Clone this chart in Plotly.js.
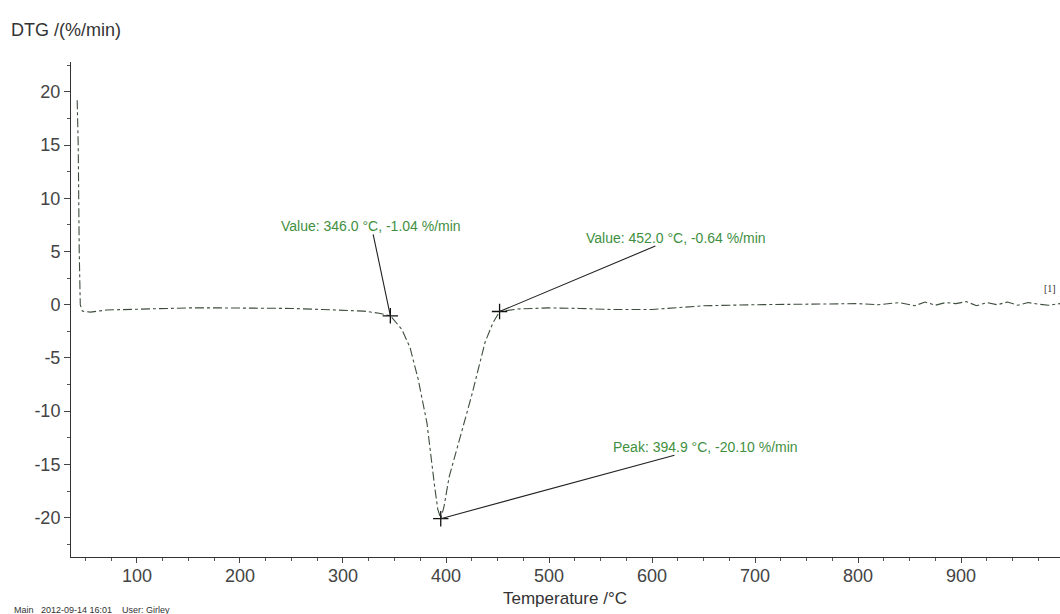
<!DOCTYPE html>
<html>
<head>
<meta charset="utf-8">
<script src="https://cdn.plot.ly/plotly-3.0.1.min.js"></script>
<style>html,body{margin:0;padding:0;background:#fff;}#chart{width:1060px;height:614px;}</style>
</head>
<body>
<div id="chart"></div>
<script>
// Temperature (°C)
const temperature = [42, 43, 44, 45, 47, 55, 70, 100, 130, 150, 180, 200, 230, 250, 280, 300, 320, 335, 346,
  357, 365, 373, 381.5, 389, 392, 394.9, 398, 403, 410, 418, 425, 432, 438, 445.6, 452,
  470, 500, 530, 560, 600, 630, 650, 700, 750, 800, 820, 840, 855, 865, 875, 885, 895, 905, 915, 925, 935, 945, 955, 965, 975, 985, 996];
// DTG (%/min)
const dtg = [19.2, 15, 5, 0, -0.6, -0.7, -0.5, -0.4, -0.35, -0.3, -0.3, -0.3, -0.35, -0.35, -0.45, -0.5, -0.6, -0.8, -1.04,
  -2.3, -4.0, -7.0, -11.1, -17.1, -19.2, -20.1, -19.0, -16.2, -13.8, -11.1, -8.5, -5.8, -3.5, -1.7, -0.64,
  -0.4, -0.3, -0.35, -0.45, -0.45, -0.25, -0.1, 0.0, 0.05, 0.1, 0.0, 0.2, -0.1, 0.25, -0.05, 0.2, 0.1, 0.3, -0.1, 0.2, 0.0, 0.25, -0.05, 0.2, 0.05, -0.05, 0.1];

// Marked points
const markT = [346.0, 394.9, 452.0];
const markV = [-1.04, -20.10, -0.64];
const markLabels = ["Value: 346.0 °C, -1.04 %/min", "Peak: 394.9 °C, -20.10 %/min", "Value: 452.0 °C, -0.64 %/min"];
const labelOffsets = [[-19, -90], [265, -72], [176, -74]];

const xTicks = [100, 200, 300, 400, 500, 600, 700, 800, 900];
const xTickText = ["100", "200", "300", "400", "500", "600", "700", "800", "900"];
const yTicks = [-20, -15, -10, -5, 0, 5, 10, 15, 20];
const yTickText = ["-20", "-15", "-10", "-5", "0", "5", "10", "15", "20"];

const font = "Liberation Sans, Arial, sans-serif";
const green = "#3f8f3f";

const traces = [
  {x: temperature, y: dtg, type: "scatter", mode: "lines",
   line: {color: "#3d4d3d", width: 1.1, dash: "dashdot"}, hoverinfo: "skip"},
  {x: markT, y: markV, type: "scatter", mode: "markers",
   marker: {symbol: "cross-thin", size: 11, line: {color: "#111", width: 1.3}}, hoverinfo: "skip"}
];

const annotations = markT.map((t, i) => ({
  x: t, y: markV[i], xref: "x", yref: "y",
  text: markLabels[i], showarrow: true, arrowhead: 0, arrowwidth: 1.1, arrowcolor: "#222",
  ax: labelOffsets[i][0], ay: labelOffsets[i][1],
  font: {family: font, size: 14, color: green}, borderpad: 0
}));

annotations.push(
  {xref: "paper", yref: "paper", x: -0.0627, y: 1.065, xanchor: "left", yanchor: "middle",
   text: "DTG /(%/min)", showarrow: false, font: {family: font, size: 18, color: "#333"}},
  {xref: "paper", yref: "paper", x: 0.4995, y: -0.0848, xanchor: "center", yanchor: "middle",
   text: "Temperature /°C", showarrow: false, font: {family: font, size: 17, color: "#333"}, borderpad: 0},
  {xref: "paper", yref: "paper", x: -0.0596, y: -0.107, xanchor: "left", yanchor: "middle",
   text: "Main&nbsp;&nbsp;&nbsp;2012-09-14 16:01&nbsp;&nbsp;&nbsp;&nbsp;User: Girley", showarrow: false,
   font: {family: font, size: 9, color: "#333"}},
  {xref: "paper", yref: "paper", x: 0.99, y: 0.542, xanchor: "center", yanchor: "middle",
   text: "[1]", showarrow: false, font: {family: "Liberation Serif, serif", size: 10, color: "#333"}}
);

const layout = {
  width: 1060, height: 614,
  margin: {l: 71, r: 0, t: 62, b: 57},
  paper_bgcolor: "#fff", plot_bgcolor: "#fff",
  showlegend: false,
  xaxis: {range: [36, 996], tickvals: xTicks, ticktext: xTickText, ticks: "outside", ticklen: 5, tickcolor: "#444",
    ticklabelstandoff: -3,
    showline: true, linecolor: "#333", linewidth: 1, showgrid: false, zeroline: false,
    tickfont: {family: font, size: 18, color: "#444"},
    minor: {dtick: 25, tick0: 0, ticks: "outside", ticklen: 3, tickcolor: "#555", showgrid: false}},
  yaxis: {range: [-23.7, 22.8], tickvals: yTicks, ticktext: yTickText, ticks: "outside", ticklen: 6, tickcolor: "#444",
    showline: true, linecolor: "#333", linewidth: 1, showgrid: false, zeroline: false,
    tickfont: {family: font, size: 18, color: "#444"},
    minor: {dtick: 2.5, tick0: 0, ticks: "outside", ticklen: 3, tickcolor: "#555", showgrid: false}},
  annotations: annotations
};

Plotly.newPlot("chart", traces, layout, {displayModeBar: false, staticPlot: true});
</script>
</body>
</html>
